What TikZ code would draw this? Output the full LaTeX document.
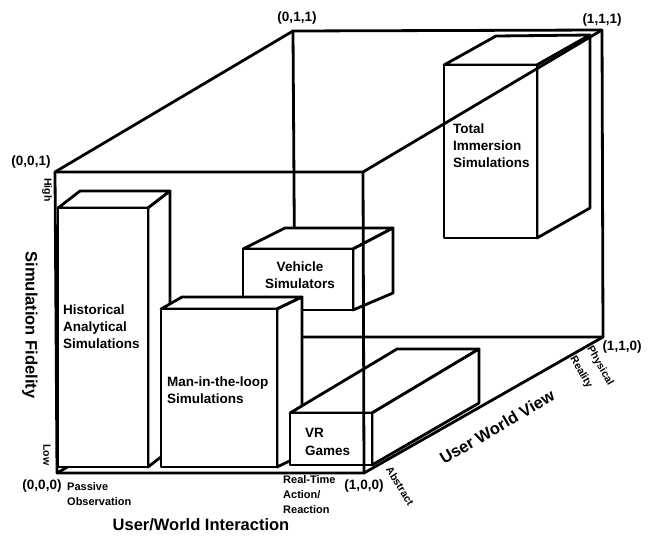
\documentclass[tikz,border=0pt]{standalone}
\usepackage{fontspec}
\setmainfont{Liberation Sans}
\begin{document}
\begin{tikzpicture}[x=1pt,y=-1pt,
  edge/.style={line width=2.8pt, line join=round, line cap=round},
  boxface/.style={fill=white, draw=black, line width=2.8pt, line join=round},
  boxlbl/.style={font=\bfseries\fontsize{13.5}{17}\selectfont, inner sep=0pt, align=left, anchor=west},
  corner/.style={font=\bfseries\fontsize{13.5}{16}\selectfont, inner sep=0pt},
  axis/.style={font=\bfseries\fontsize{16.5}{20}\selectfont, inner sep=0pt},
  small/.style={font=\bfseries\fontsize{11}{15}\selectfont, inner sep=0pt, align=left, anchor=west},
  tiny/.style={font=\bfseries\fontsize{10.5}{13}\selectfont, inner sep=0pt}]
\useasboundingbox (0,0) rectangle (652,536);
% cube corners
\coordinate (c000) at (57,473);
\coordinate (c100) at (364,473);
\coordinate (c001) at (55,172);
\coordinate (c101) at (363,172);
\coordinate (c011) at (293,31);
\coordinate (c111) at (602,30);
\coordinate (c010) at (295,337);
\coordinate (c110) at (603,337);
% back edges (hidden by boxes)
\draw[edge] (c011) -- (c010) -- (c110);
\draw[edge] (c000) -- (c010);
% Total immersion box
\filldraw[boxface] (444,65) -- (496,36) -- (590,35) -- (537,65) -- cycle;
\filldraw[boxface] (537,65) -- (590,35) -- (590,208) -- (537,238) -- cycle;
\filldraw[boxface] (444,65) rectangle (537,238);
% Vehicle box
\filldraw[boxface] (243,249) -- (285,228) -- (393,228) -- (353,249) -- cycle;
\filldraw[boxface] (353,249) -- (393,228) -- (393,293) -- (353,310) -- cycle;
\filldraw[boxface] (243,249) rectangle (353,310);
% Historical box
\filldraw[boxface] (58,208) -- (80,191) -- (170,191) -- (148,208) -- cycle;
\filldraw[boxface] (148,208) -- (170,191) -- (170,450) -- (148,467) -- cycle;
\filldraw[boxface] (58,208) rectangle (148,467);
% Man-in-the-loop box
\filldraw[boxface] (161,309) -- (182,297) -- (302,297) -- (277,309) -- cycle;
\filldraw[boxface] (277,309) -- (302,297) -- (302,455) -- (277,467) -- cycle;
\filldraw[boxface] (161,309) rectangle (277,467);
% VR box
\filldraw[boxface] (290,413) -- (397,349) -- (479,349) -- (372,413) -- cycle;
\filldraw[boxface] (372,413) -- (479,349) -- (479,403) -- (372,465) -- cycle;
\filldraw[boxface] (290,413) rectangle (372,465);
% front / visible cube edges
\draw[edge] (c001) -- (c011) -- (c111) -- (c110);
\draw[edge] (c001) -- (c101) -- (c111);
\draw[edge] (c001) -- (c000) -- (c100) -- (c101);
\draw[edge] (c100) -- (c110);
% box labels
\node[boxlbl] (hist) at (63,327) {Historical\\Analytical\\Simulations};
\node[boxlbl] (man) at (167,390) {Man-in-the-loop\\Simulations};
\node[boxlbl, align=center, anchor=center] (veh) at (300,275) {Vehicle\\Simulators};
\node[boxlbl, align=left] (vr) at (305,442) {VR\\[1pt]Games};
\node[boxlbl] (tot) at (453,146) {Total\\Immersion\\Simulations};
% corner labels
\node[corner] (l011) at (297,18) {(0,1,1)};
\node[corner] (l111) at (602,20) {(1,1,1)};
\node[corner] (l001) at (31,162) {(0,0,1)};
\node[corner] (l000) at (42,486) {(0,0,0)};
\node[corner] (l100) at (364,486) {(1,0,0)};
\node[corner] (l110) at (622,347) {(1,1,0)};
% axis labels
\node[axis, rotate=-90] (simfid) at (30,325) {Simulation Fidelity};
\node[axis] (uwi) at (201,525) {User/World Interaction};
\node[axis, rotate=30.5] (uwv) at (497,427) {User World View};
\node[tiny, rotate=-90] (high) at (47,190) {High};
\node[tiny, rotate=-90] (low) at (47,455) {Low};
\node[small] (passive) at (67,494) {Passive\\Observation};
\node[small] (realtime) at (283,495) {Real-Time\\Action/\\Reaction};
\node[tiny, rotate=-58] (abstract) at (400,486) {Abstract};
\node[tiny, rotate=-60] (physical) at (600,366) {Physical};
\node[tiny, rotate=-60] (reality) at (581,372) {Reality};
\end{tikzpicture}
\end{document}
